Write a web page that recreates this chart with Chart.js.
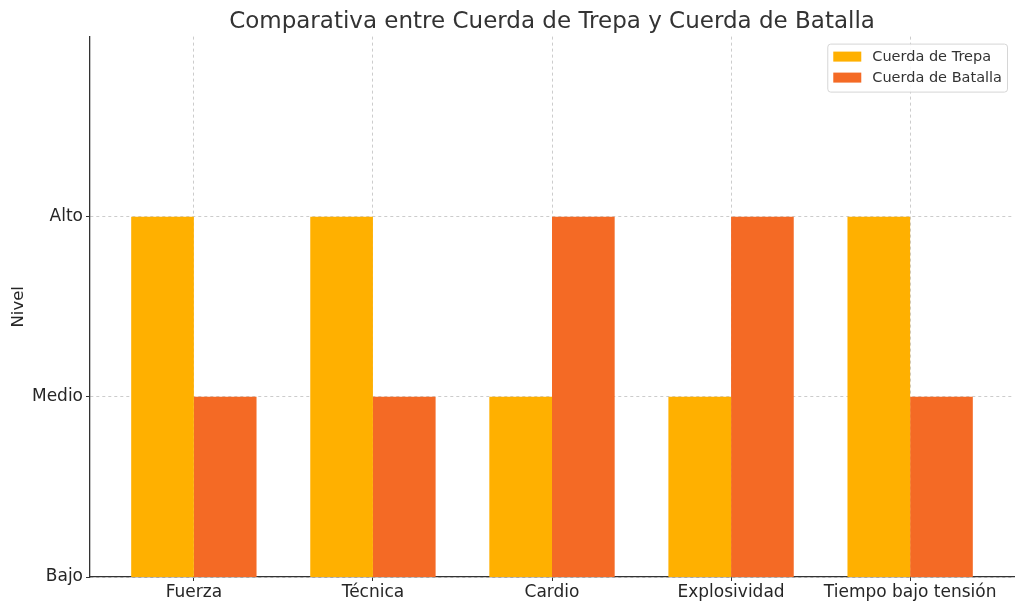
<!DOCTYPE html>
<html>
<head>
<meta charset="utf-8">
<script src="https://cdn.jsdelivr.net/npm/chart.js@4/dist/chart.umd.min.js"></script>
<style>
  html, body { margin: 0; padding: 0; background: #fff; }
  #wrap { width: 1024px; height: 611px; }
</style>
</head>
<body>
<div id="wrap"><canvas id="myChart"></canvas></div>
<script>
// datos
const categories = ["Fuerza", "Técnica", "Cardio", "Explosividad", "Tiempo bajo tensión"];
const trepaValues = [3, 3, 2, 2, 3];
const batallaValues = [2, 2, 3, 3, 2];
const levelLabels = { 1: "Bajo", 2: "Medio", 3: "Alto" };
const levelTicks = [1, 2, 3];

Chart.defaults.font.family = "'DejaVu Sans', sans-serif";
Chart.defaults.color = "#262626";

const toPoints = (arr) => arr.map((v, i) => ({ x: i, y: v }));

// título centrado sobre el área de datos
const centerTitle = {
  id: "centerTitle",
  afterLayout(chart) {
    if (chart.titleBlock) {
      chart.titleBlock.left = chart.chartArea.left;
      chart.titleBlock.right = chart.chartArea.right;
    }
  },
};

// leyenda dentro del área del gráfico
const insideLegend = {
  id: "insideLegend",
  afterDraw(chart) {
    const ctx = chart.ctx;
    const area = chart.chartArea;
    const sets = chart.data.datasets;
    ctx.save();
    ctx.font = "14.5px 'DejaVu Sans', sans-serif";
    let textW = 0;
    sets.forEach((ds) => { textW = Math.max(textW, ctx.measureText(ds.label).width); });
    const w = 45 + textW + 5;
    const h = 48;
    const x = area.right - 7 - w;
    const y = area.top + 7;
    ctx.fillStyle = "rgba(255,255,255,0.85)";
    ctx.strokeStyle = "#d6d6d6";
    ctx.lineWidth = 1;
    ctx.beginPath();
    ctx.roundRect(x + 0.5, y + 0.5, w, h, 3);
    ctx.fill();
    ctx.stroke();
    sets.forEach((ds, i) => {
      const cy = y + 13 + i * 21;
      ctx.fillStyle = ds.backgroundColor;
      ctx.fillRect(x + 6, cy - 5, 28, 10);
      ctx.fillStyle = "#333";
      ctx.textBaseline = "middle";
      ctx.fillText(ds.label, x + 45, cy + 1);
    });
    ctx.restore();
  },
};

const gridOpts = {
  offset: false,
  color: "#cccccc",
  lineWidth: 1,
  tickColor: "#333",
  tickBorderDash: [],
  tickLength: 4,
};

new Chart("myChart", {
  type: "bar",
  data: {
    datasets: [
      {
        label: "Cuerda de Trepa",
        data: toPoints(trepaValues),
        backgroundColor: "#FFB000",
        categoryPercentage: 0.7,
        barPercentage: 1.0,
      },
      {
        label: "Cuerda de Batalla",
        data: toPoints(batallaValues),
        backgroundColor: "#F46A25",
        categoryPercentage: 0.7,
        barPercentage: 1.0,
      },
    ],
  },
  options: {
    responsive: true,
    maintainAspectRatio: false,
    animation: false,
    layout: { padding: { left: 0, right: 10, top: 0, bottom: 0 } },
    plugins: {
      legend: { display: false },
      tooltip: { enabled: false },
      title: {
        display: true,
        text: "Comparativa entre Cuerda de Trepa y Cuerda de Batalla",
        color: "#333",
        font: { size: 23, weight: "normal" },
        padding: { top: 8, bottom: 1 },
      },
    },
    scales: {
      x: {
        type: "linear",
        offset: false,
        min: -0.58,
        max: 4.58,
        afterBuildTicks: (scale) => {
          scale.ticks = categories.map((_, i) => ({ value: i }));
        },
        afterFit: (scale) => { scale.height = 34; },
        ticks: {
          callback: (v) => categories[v],
          font: { size: 17 },
          color: "#262626",
          padding: 1,
          maxRotation: 0,
          autoSkip: false,
        },
        grid: gridOpts,
        border: { color: "#333", width: 1.3, dash: [3, 3] },
      },
      y: {
        min: 1,
        max: 4,
        afterBuildTicks: (scale) => {
          scale.ticks = levelTicks.map((v) => ({ value: v }));
        },
        afterFit: (scale) => { scale.width = 90; },
        title: {
          display: true,
          text: "Nivel",
          font: { size: 16.5 },
          color: "#262626",
          padding: { top: 9, bottom: 0 },
        },
        ticks: {
          callback: (v) => levelLabels[v],
          font: { size: 17 },
          color: "#262626",
          padding: 3,
        },
        grid: gridOpts,
        border: { color: "#333", width: 1.3, dash: [3, 3] },
      },
    },
  },
  plugins: [centerTitle, insideLegend],
});
</script>
</body>
</html>
